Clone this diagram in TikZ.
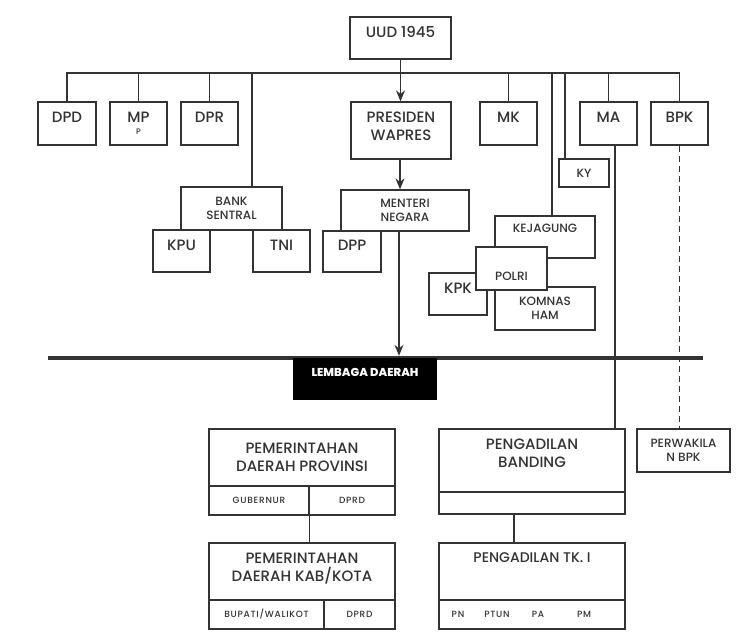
\documentclass[tikz,border=0pt]{standalone}
\usepackage{fontspec}
\setmainfont{Poppins}[UprightFont={* Medium}]
\usetikzlibrary{arrows, arrows.meta, positioning, shapes}
\definecolor{tinta}{HTML}{333333}
\tikzstyle{kotak} = [rectangle, draw=tinta, line width=1.3pt, fill=white, inner sep=0pt, align=center, text=tinta]
\tikzstyle{besar} = [font=\fontsize{15}{18}\selectfont]
\tikzstyle{sedang} = [font=\fontsize{12}{14.5}\selectfont]
\tikzstyle{kecil} = [font=\fontsize{9}{11}\selectfont\addfontfeature{LetterSpace=8}]
\tikzstyle{garis} = [draw=tinta, line width=1.3pt]
\tikzstyle{panah} = [garis, -{Stealth[length=11pt,width=9pt]}]
\tikzstyle{putus} = [garis, dash pattern=on 6pt off 4pt]

\begin{document}
\begin{tikzpicture}[x=1pt,y=-1pt]
      \useasboundingbox (0,0) rectangle (746,635);
      % lembaga pusat
      \node (uud) [kotak,besar,minimum width=101,minimum height=42,text depth=12pt] at (400.5,38) {UUD 1945};
      \node (dpd) [kotak,besar,minimum width=58,minimum height=43,text depth=12pt] at (67,123.5) {DPD};
      \node (mp) [kotak,besar,minimum width=57,minimum height=43] at (138.5,123.5) {MP\\[-6pt]{\fontsize{8}{9}\selectfont P}};
      \node (dpr) [kotak,besar,minimum width=57,minimum height=43,text depth=12pt] at (209.5,123.5) {DPR};
      \node (pres) [kotak,besar,minimum width=100,minimum height=57,text depth=9pt] at (401,130.5) {PRESIDEN\\WAPRES};
      \node (mk) [kotak,besar,minimum width=57,minimum height=43,text depth=12pt] at (508.5,123.5) {MK};
      \node (ma) [kotak,besar,minimum width=57,minimum height=43,text depth=12pt] at (608.5,123.5) {MA};
      \node (bpk) [kotak,besar,minimum width=57,minimum height=43,text depth=12pt] at (679.5,123.5) {BPK};
      \node (ky) [kotak,sedang,minimum width=50,minimum height=28] at (584,173) {KY};

      \node (bank) [kotak,sedang,minimum width=101,minimum height=43] at (231.5,208.5) {BANK\\SENTRAL};
      \node (kpu) [kotak,besar,minimum width=57,minimum height=42,text depth=12pt] at (181.5,251) {KPU};
      \node (tni) [kotak,besar,minimum width=57,minimum height=42,text depth=12pt] at (281.5,251) {TNI};
      \node (menteri) [kotak,sedang,minimum width=128,minimum height=41] at (405,210.5) {MENTERI\\NEGARA};
      \node (dpp) [kotak,besar,minimum width=58,minimum height=41,text depth=12pt] at (352,251.5) {DPP};

      \node (kejagung) [kotak,sedang,minimum width=100,minimum height=42,text depth=18pt] at (545,237) {KEJAGUNG};
      \node (komnas) [kotak,sedang,minimum width=100,minimum height=43] at (545,308.5) {KOMNAS\\HAM};
      \node (kpk) [kotak,besar,minimum width=58,minimum height=42,text depth=12pt] at (458,294) {KPK};
      \node (polri) [kotak,sedang,minimum width=71,minimum height=43,text height=25pt] at (511.5,268.5) {POLRI};

      % garis pemisah pusat / daerah
      \coordinate (kiri) at (48,358);
      \coordinate (kanan) at (703,358);
      \draw [tinta,line width=4.5pt] (kiri) -- (kanan);
      \node (daerah) [rectangle,fill=black,inner sep=0pt,minimum width=144,minimum height=42,text depth=14pt,text=white,font=\fontsize{11.5}{13}\selectfont\bfseries] at (365,379) {LEMBAGA DAERAH};

      % lembaga daerah
      \node (prov) [kotak,besar,minimum width=186,minimum height=57] at (302,457.5) {PEMERINTAHAN\\DAERAH PROVINSI};
      \node (gub) [kotak,kecil,minimum width=100,minimum height=29] at (259,500.5) {GUBERNUR};
      \node (dprdprov) [kotak,kecil,minimum width=86,minimum height=29] at (352,500.5) {DPRD};
      \node (kab) [kotak,besar,minimum width=186,minimum height=57,text depth=8pt] at (302,571.5) {PEMERINTAHAN\\DAERAH KAB/KOTA};
      \node (bupati) [kotak,kecil,minimum width=115,minimum height=29] at (266.5,614.5) {BUPATI/WALIKOT};
      \node (dprdkab) [kotak,kecil,minimum width=71,minimum height=29] at (359.5,614.5) {DPRD};

      \node (banding) [kotak,besar,minimum width=186,minimum height=63,text depth=15pt] at (532,460.5) {PENGADILAN\\BANDING};
      \node (bandingbwh) [kotak,minimum width=186,minimum height=22] at (532,503) {};
      \node (tk1) [kotak,besar,minimum width=186,minimum height=57,text depth=27pt,font=\fontsize{14}{16}\selectfont] at (532,571.5) {PENGADILAN TK. I};
      \node (tk1bwh) [kotak,minimum width=186,minimum height=29] at (532,614.5) {};
      \node (pn) [kecil,text=tinta] at (458,614.5) {PN};
      \node (ptun) [kecil,text=tinta] at (497,614.5) {PTUN};
      \node (pa) [kecil,text=tinta] at (538,614.5) {PA};
      \node (pm) [kecil,text=tinta] at (584,614.5) {PM};
      \node (perwakilan) [kotak,sedang,minimum width=93,minimum height=43] at (683.5,450.5) {PERWAKILA\\N BPK};

      % penghubung
      \coordinate (bus) at (400,73);
      \draw [garis] (dpd.north) |- (bus) -| (bpk.north);
      \draw [garis] (mp.north) -- (mp.north |- bus);
      \draw [garis] (dpr.north) -- (dpr.north |- bus);
      \draw [garis] ([xshift=20.5]bank.north) -- ([xshift=20.5]bank.north |- bus);
      \draw [garis] (mk.north) -- (mk.north |- bus);
      \draw [garis] (ma.north) -- (ma.north |- bus);
      \draw [garis] ([xshift=7]kejagung.north) -- ([xshift=7]kejagung.north |- bus);
      \draw [garis] ([xshift=-19]ky.north) -- ([xshift=-19]ky.north |- bus);
      \draw [panah] (uud.south) -- (uud.south |- pres.north);
      \draw [panah] ([xshift=-1]pres.south) -- ([xshift=-1]pres.south |- menteri.north);
      \draw [panah,shorten >=2.2pt] ([xshift=-6]menteri.south) -- ([xshift=-6]menteri.south |- kiri);
      \draw [garis] ([xshift=6.5]ma.south) -- ([xshift=6.5]ma.south |- banding.north);
      \draw [putus] (bpk.south) -- (bpk.south |- perwakilan.north);
      \draw [garis] (gub.south east) -- (gub.south east |- kab.north);
      \draw [garis] ([xshift=-18]bandingbwh.south) -- ([xshift=-18]bandingbwh.south |- tk1.north);
    \end{tikzpicture}
\end{document}
